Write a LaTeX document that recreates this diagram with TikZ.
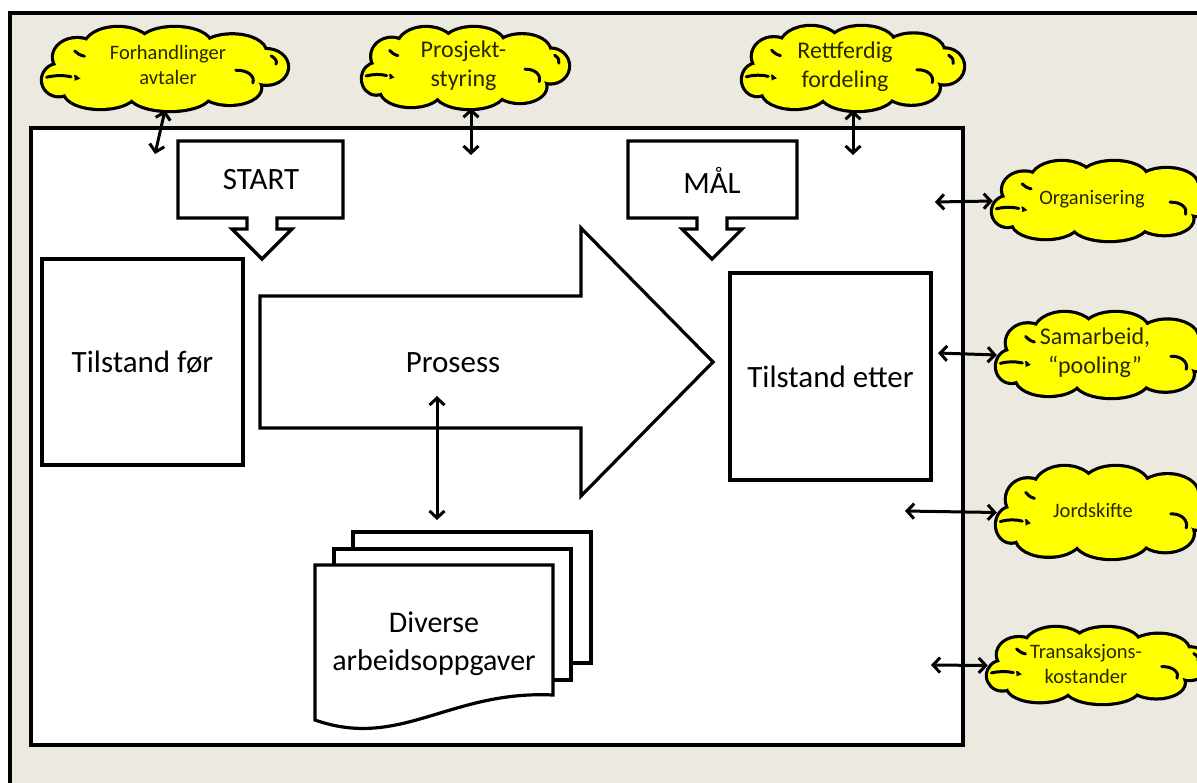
\documentclass[tikz,border=0pt]{standalone}
\usepackage{fontspec}
\setmainfont{Carlito}
\usetikzlibrary{arrows.meta}
\definecolor{bg}{RGB}{236,233,224}
\definecolor{cy}{RGB}{255,255,0}
\definecolor{ctext}{RGB}{40,40,0}
\newcommand{\puffs}{-0.87/0.27/0.13/0.37,-0.72/-0.29/0.19/0.44,-0.385/-0.54/0.27/0.46,0.08/-0.61/0.29/0.39,0.55/-0.41/0.27/0.41,0.83/-0.05/0.17/0.41,0.53/0.46/0.25/0.39,0.04/0.61/0.33/0.39,-0.53/0.56/0.29/0.39}
\newcommand{\ycloud}[7]{%
  \begin{scope}[shift={(#2,#3)},x=#4pt,y=-#5pt]
    \foreach \u/\v/\rx/\ry in \puffs {\draw[line width=6.4pt] (\u,\v) ellipse [x radius=\rx,y radius=\ry];}
    \foreach \u/\v/\rx/\ry in \puffs {\fill[cy] (\u,\v) ellipse [x radius=\rx,y radius=\ry];}
    \fill[cy] (0,0) ellipse [x radius=0.75,y radius=0.6];
    \begin{scope}[line width=3pt,line cap=round]
      \draw (-0.97,0.2) .. controls (-0.9,0.15) and (-0.83,0.15) .. (-0.77,0.19);
      \draw (0.58,0.03) .. controls (0.68,0.02) and (0.74,0.18) .. (0.72,0.34);
      \draw (0.87,-0.32) .. controls (0.91,-0.25) and (0.92,-0.18) .. (0.91,-0.12);
      \draw (-0.74,-0.44) .. controls (-0.72,-0.38) and (-0.7,-0.34) .. (-0.66,-0.31);
    \end{scope}
  \end{scope}
  \node[inner sep=0pt,minimum width=2*#4pt,minimum height=2*#5pt] (#1) at (#2,#3) {};
  \node[cloudtext,#7] (#1t) at (#2,#3-2) {#6};}
\begin{document}
\begin{tikzpicture}[x=1pt,y=-1pt,line join=miter,
  boxline/.style={draw=black,line width=3.2pt,fill=white},
  cloudtext/.style={font=\fontsize{20.5}{25}\selectfont,text=ctext,align=center,inner sep=0pt},
  bigcloud/.style={font=\fontsize{24}{29}\selectfont},
  link/.style={line width=3pt,{Straight Barb[length=7pt,width=15pt]}-{Straight Barb[length=7pt,width=15pt]}},
  bigtext/.style={font=\fontsize{31}{38}\selectfont,align=center}]
\useasboundingbox (0,0) rectangle (1197,782);
\clip (0,0) rectangle (1197,782);
\fill[white] (0,0) rectangle (1197,782);
\draw[line width=3.5pt,fill=bg] (10,13) rectangle (1240,830);
% inner area
\draw[boxline] (31,128) rectangle (963,745);
% START callout
\draw[boxline] (178,141) -- (343,141) -- (343,218) -- (277,218) -- (277,229) -- (292,229) -- (262,259)
  -- (232,229) -- (247,229) -- (247,218) -- (178,218) -- cycle;
\node[bigtext] (start) at (261,180) {START};
% MAL callout
\draw[boxline] (628,141) -- (797,141) -- (797,218) -- (727,218) -- (727,229) -- (742,229) -- (712,259)
  -- (682,229) -- (697,229) -- (697,218) -- (628,218) -- cycle;
\node[bigtext] (maal) at (712,180) {MÅL};
% states
\node[boxline,bigtext,minimum width=201pt,minimum height=206pt] (tfor) at (142.5,362) {Tilstand før};
\node[boxline,bigtext,minimum width=201pt,minimum height=207pt] (tetter) at (830.5,376.5) {Tilstand etter};
% process arrow
\draw[boxline] (260,296) -- (581,296) -- (581,228) -- (713,362) -- (581,496) -- (581,428) -- (260,428) -- cycle;
\node[bigtext] (prosess) at (453,363) {Prosess};
% documents
\draw[boxline] (353,532) rectangle (591,663);
\draw[boxline] (334,549) rectangle (571,680);
\draw[boxline] (315,565) -- (553,565) -- (553,695) .. controls (450,690) and (400,750) .. (315,720) -- cycle;
\node[bigtext,font=\fontsize{30}{38}\selectfont] (docs) at (434,644) {Diverse\\arbeidsoppgaver};
% clouds
\ycloud{c1}{165}{69}{122}{41}{Forhandlinger\\avtaler}{xshift=3pt,yshift=2pt}
\ycloud{c2}{465.5}{68}{102.5}{40}{Prosjekt-\\styring}{bigcloud,xshift=-2pt}
\ycloud{c3}{853}{68.5}{110}{41.5}{Rettferdig\\fordeling}{bigcloud,xshift=-8pt}
\ycloud{c4}{1105}{201}{112}{39}{Organisering}{xshift=-13pt}
\ycloud{c5}{1107}{355}{110}{42}{Samarbeid,\\“pooling”}{bigcloud,xshift=-12pt}
\ycloud{c6}{1107}{512.5}{110}{45.5}{Jordskifte}{xshift=-14pt}
\ycloud{c7}{1098}{665.5}{110}{37.5}{Transaksjons-\\kostander}{xshift=-12pt}
% connector ends
\coordinate (e1) at (155,154);
\coordinate (e2) at (471,155);
\coordinate (e3) at (853,155);
\coordinate (e4) at (935,202);
\coordinate (e5) at (938,353);
\coordinate (e6) at (905,511);
\coordinate (e7) at (931,665);
\coordinate (p1) at (437,396);
\coordinate (p2) at (437,520);
% connectors
\draw[link] (c1.south) -- (e1);
\draw[link] (c2.south -| e2) -- (e2);
\draw[link] (c3.south) -- (e3);
\draw[link] (e4) -- (c4.west);
\draw[link] (e5) -- (c5.west);
\draw[link] (e6) -- (c6.west);
\draw[link] (e7) -- (c7.west);
\draw[link] (p1) -- (p2);
\end{tikzpicture}
\end{document}
